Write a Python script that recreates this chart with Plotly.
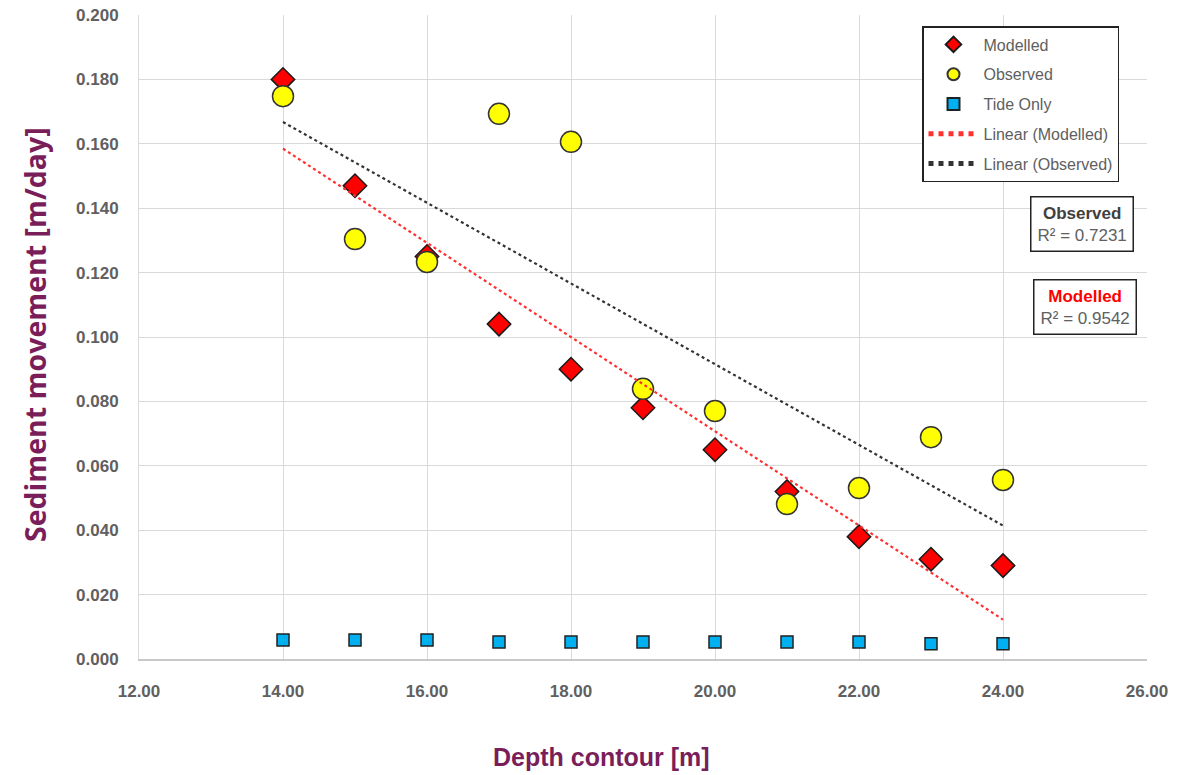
import numpy as np
import plotly.graph_objects as go

depth = [14, 15, 16, 17, 18, 19, 20, 21, 22, 23, 24]
modelled = [0.180, 0.147, 0.125, 0.104, 0.090, 0.078, 0.065, 0.052, 0.038, 0.031, 0.029]
observed = [0.1748, 0.1304, 0.1233, 0.1693, 0.1606, 0.0839, 0.0770, 0.0481, 0.0531, 0.0689, 0.0556]
tide_only = [0.0059, 0.0059, 0.0059, 0.0053, 0.0053, 0.0053, 0.0053, 0.0053, 0.0053, 0.0047, 0.0047]
r2_observed = "0.7231"
r2_modelled = "0.9542"

FONT = "Liberation Sans, Arial, sans-serif"
GRAY = "#606060"
TITLE_COL = "#7A1E5A"

x = np.array(depth, dtype=float)
pm = np.polyfit(x, np.array(modelled), 1)
po = np.polyfit(x, np.array(observed), 1)
x_fit = [min(depth), max(depth)]

# plot area in page pixels: left 139, right 1147, top 15, bottom 659
def px(xp):
    return (xp - 139) / 1008.0

def py(yp):
    return (659 - yp) / 644.0

fig = go.Figure()
fig.add_trace(go.Scatter(x=depth, y=modelled, mode="markers", name="Modelled", legendgroup="a",
                         marker=dict(symbol="diamond", size=18, color="#FF0000",
                                     line=dict(color="#1a1a1a", width=1.5))))
fig.add_trace(go.Scatter(x=depth, y=observed, mode="markers", name="Observed", legendgroup="b",
                         marker=dict(symbol="circle", size=21, color="#FFFF00",
                                     line=dict(color="#333333", width=1.5))))
fig.add_trace(go.Scatter(x=depth, y=tide_only, mode="markers", name="Tide Only", legendgroup="c",
                         marker=dict(symbol="square", size=12, color="#00B0F0",
                                     line=dict(color="#222222", width=1.5))))
fig.add_trace(go.Scatter(x=x_fit, y=list(np.polyval(pm, x_fit)), mode="lines",
                         name="Linear (Modelled)", legendgroup="d",
                         line=dict(color="#FF3030", width=2.2, dash="dot")))
fig.add_trace(go.Scatter(x=x_fit, y=list(np.polyval(po, x_fit)), mode="lines",
                         name="Linear (Observed)", legendgroup="e",
                         line=dict(color="#333333", width=2.2, dash="dot")))

fig.update_layout(
    width=1199, height=775,
    margin=dict(l=139, r=52, t=15, b=116, autoexpand=False),
    paper_bgcolor="white", plot_bgcolor="white",
    font=dict(family=FONT, color=GRAY, size=15),
    showlegend=True,
    legend=dict(x=px(922), y=py(26), xanchor="left", yanchor="top",
                bordercolor="#222222", borderwidth=1.5, bgcolor="white",
                font=dict(family=FONT, size=16, color=GRAY),
                itemsizing="constant", tracegroupgap=6, itemwidth=50),
    xaxis=dict(range=[12, 26], dtick=2, tickformat=".2f", automargin=False,
               showgrid=True, gridcolor="#D9D9D9", gridwidth=1,
               showline=True, linecolor="#C8C8C8", linewidth=1.5,
               zeroline=False, ticks="", ticklabelstandoff=16,
               ticklabeloverflow="allow",
               tickfont=dict(family=FONT, size=17, color=GRAY, weight="bold")),
    yaxis=dict(range=[0, 0.2], dtick=0.02, tickformat=".3f", automargin=False,
               showgrid=True, gridcolor="#D9D9D9", gridwidth=1,
               showline=True, linecolor="#D9D9D9", linewidth=1,
               zeroline=False, ticks="", ticklabelstandoff=16,
               ticklabeloverflow="allow",
               tickfont=dict(family=FONT, size=17, color=GRAY, weight="bold")),
    annotations=[
        dict(text="<b>Depth contour [m]</b>", xref="paper", yref="paper",
             x=px(601), y=py(757), xanchor="center", yanchor="middle",
             showarrow=False, font=dict(family=FONT, size=25, color=TITLE_COL)),
        dict(text="<b>Sediment movement [m/day]</b>", xref="paper", yref="paper",
             x=px(35), y=py(335), xanchor="center", yanchor="middle", textangle=-90,
             showarrow=False, font=dict(family="Open Sans, sans-serif", size=28.5, color=TITLE_COL)),
        dict(text="<b><span style='color:#404040'>Observed</span></b><br>R² = " + r2_observed,
             xref="paper", yref="paper",
             x=px(1082), y=py(224), xanchor="center", yanchor="middle",
             showarrow=False, align="center", bordercolor="#222222", borderwidth=1.5,
             bgcolor="white", borderpad=6,
             font=dict(family=FONT, size=17, color=GRAY)),
        dict(text="<b><span style='color:#FF0000'>Modelled</span></b><br>R² = " + r2_modelled,
             xref="paper", yref="paper",
             x=px(1085), y=py(307), xanchor="center", yanchor="middle",
             showarrow=False, align="center", bordercolor="#222222", borderwidth=1.5,
             bgcolor="white", borderpad=6,
             font=dict(family=FONT, size=17, color=GRAY)),
    ],
)

fig.write_html("out.html", config={"displayModeBar": False},
               post_script="document.body.style.margin='0px';")
